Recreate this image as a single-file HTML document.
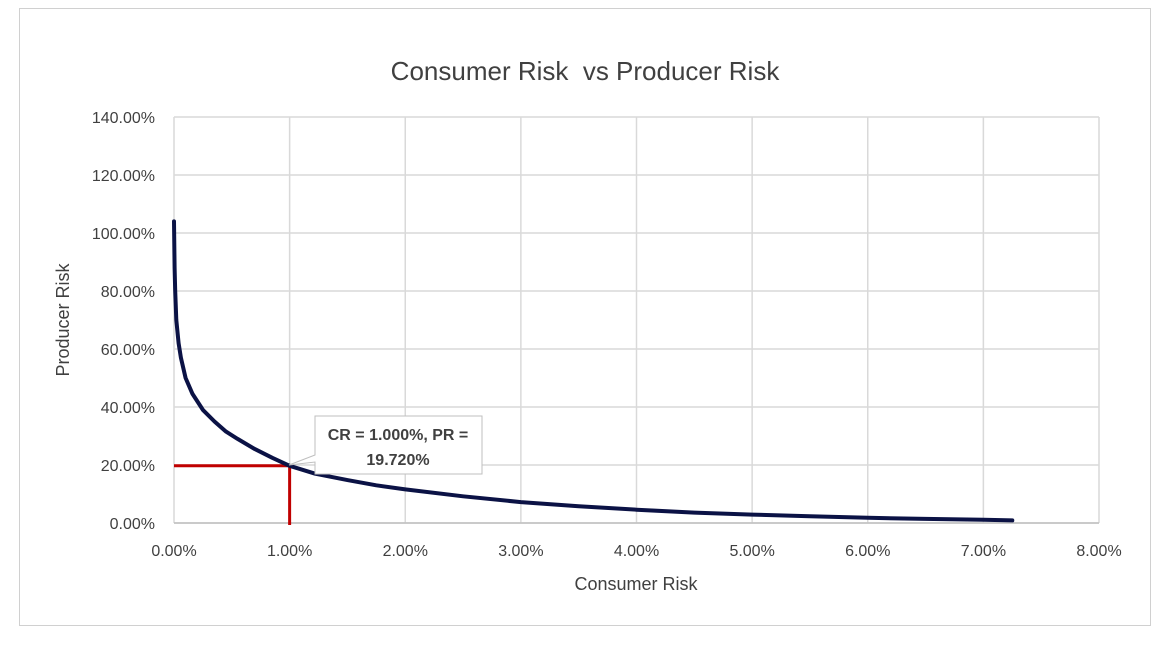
<!DOCTYPE html>
<html><head><meta charset="utf-8"><style>
body{margin:0;background:#fff;}
svg text{font-family:"Liberation Sans",sans-serif;fill:#404040;white-space:pre;}
</style></head><body>
<svg width="1170" height="658" viewBox="0 0 1170 658">
<rect x="0" y="0" width="1170" height="658" fill="#fff"/>
<rect x="19.5" y="8.5" width="1131" height="617" fill="#fff" stroke="#d0d0d0"/>
<text x="585" y="80" font-size="26" text-anchor="middle" xml:space="preserve">Consumer Risk  vs Producer Risk</text>
<g id="grid"></g>
<g id="ticks"></g>
<text x="636" y="590" font-size="18" text-anchor="middle">Consumer Risk</text>
<text transform="translate(69,320) rotate(-90)" font-size="18" text-anchor="middle">Producer Risk</text>
<g id="marks"></g>
<g>
<polygon points="315,447 315,416 482,416 482,474 315,474 315,462 289,465 315,455" fill="#fff" stroke="#bfbfbf"/>
<text x="398" y="440" font-size="16" font-weight="bold" text-anchor="middle">CR = 1.000%, PR =</text>
<text x="398" y="465" font-size="16" font-weight="bold" text-anchor="middle">19.720%</text>
</g>
</svg>
<script>
const xTicks=[0,1,2,3,4,5,6,7,8];
const yTicks=[0,20,40,60,80,100,120,140];
const crValues=[0,0.005,0.01,0.02,0.04,0.06,0.1,0.16,0.25,0.35,0.45,0.55,0.7,0.85,1.0,1.22,1.5,1.75,2.0,2.5,3.0,3.5,4.0,4.5,5.0,5.5,6.0,6.5,7.0,7.25];
const prValues=[104,88,80,70,62,57,50,44.5,39,35,31.5,29,25.5,22.5,19.72,17,14.8,13,11.6,9.2,7.2,5.8,4.6,3.6,2.9,2.3,1.8,1.4,1.1,0.9];
const markCR=1.0, markPR=19.72;
const X=v=>174+v*(1099-174)/8;
const Y=v=>523-v*(523-117)/140;
const ns='http://www.w3.org/2000/svg';
function mk(tag,attrs,parent){const e=document.createElementNS(ns,tag);for(const k in attrs)e.setAttribute(k,attrs[k]);document.getElementById(parent).appendChild(e);return e;}
yTicks.forEach(t=>{
 const l=mk('line',{x1:174,x2:1099,y1:Y(t),y2:Y(t),stroke:'#d9d9d9','stroke-width':1.5},'grid');
 
 
 const tx=mk('text',{x:155,y:Y(t)+6,'font-size':16,'text-anchor':'end'},'ticks');
 tx.textContent=t.toFixed(2)+'%';
 
 
});
xTicks.forEach(t=>{
 const l=mk('line',{x1:X(t),x2:X(t),y1:117,y2:523,stroke:'#d9d9d9','stroke-width':1.5},'grid');
 
 
 const tx=mk('text',{x:X(t),y:556,'font-size':16,'text-anchor':'middle'},'ticks');
 tx.textContent=t.toFixed(2)+'%';
 
 
});
const ax=mk('line',{x1:174,x2:1099,y1:523,y2:523,stroke:'#bfbfbf','stroke-width':1.5},'grid');


const hl=mk('line',{x1:X(0),x2:X(markCR),y1:Y(markPR),y2:Y(markPR),stroke:'#c00000','stroke-width':3},'marks');


const vl=mk('line',{x1:X(markCR),x2:X(markCR),y1:Y(markPR),y2:Y(0)+2,stroke:'#c00000','stroke-width':3},'marks');


let d=crValues.map((v,i)=>(i?'L':'M')+X(v).toFixed(1)+','+Y(prValues[i]).toFixed(1)).join(' ');
const p=mk('path',{d:d,fill:'none',stroke:'#0b1245','stroke-width':4,'stroke-linejoin':'round','stroke-linecap':'round'},'marks');


</script>
</body></html>
